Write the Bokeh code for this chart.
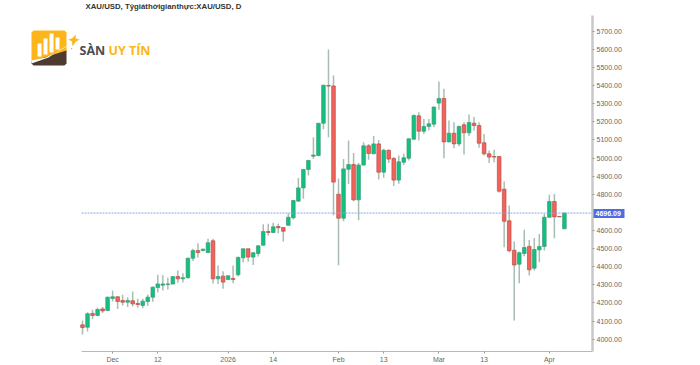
from bokeh.plotting import figure
from bokeh.models import ColumnDataSource, FixedTicker, Label, Range1d, LinearAxis, NumeralTickFormatter
from bokeh.embed import file_html
from bokeh.resources import INLINE

# one [open, high, low, close] per trading day
ohlc = [
[4079,4103,4026,4064],[4066,4149,4042,4140],[4142,4162,4112,4131],[4131,4173,4127,4164],
[4167,4177,4144,4156],[4158,4234,4156,4232],[4225,4269,4208,4234],[4234,4237,4166,4208],
[4213,4245,4186,4204],[4204,4232,4177,4213],[4212,4263,4180,4195],[4197,4223,4173,4191],
[4186,4223,4171,4210],[4208,4247,4184,4232],[4232,4291,4206,4287],[4285,4355,4258,4305],
[4298,4353,4269,4305],[4302,4339,4274,4305],[4304,4346,4304,4346],[4346,4379,4311,4333],
[4333,4364,4313,4339],[4339,4449,4335,4447],[4447,4499,4431,4489],[4489,4530,4451,4478],
[4489,4500,4486,4497],[4478,4554,4475,4532],[4543,4554,4307,4333],[4333,4407,4305,4346],
[4348,4375,4278,4315],[4329,4350,4329,4350],[4335,4407,4309,4329],[4355,4456,4348,4451],
[4449,4499,4425,4499],[4499,4499,4427,4453],[4453,4480,4410,4477],[4473,4519,4456,4515],
[4519,4635,4517,4594],[4594,4637,4572,4589],[4589,4642,4585,4620],[4622,4637,4585,4615],
[4616,4616,4539,4596],[4629,4695,4626,4673],[4670,4769,4661,4765],[4762,4890,4760,4835],
[4835,4940,4775,4937],[4937,4990,4903,4986],[5010,5115,4994,5016],[5014,5192,5010,5192],
[5192,5404,5159,5402],[5400,5599,5115,5397],[5398,5456,4684,4867],[4800,4885,4408,4668],
[4668,4995,4651,4940],[4938,5097,4856,4964],[4964,5027,4762,4769],[4769,4973,4657,4961],
[4961,5087,4959,5067],[5067,5078,4990,5025],[5023,5122,5023,5078],[5078,5100,4881,4922],
[4922,5051,4891,5043],[5043,5047,4972,4994],[4997,5005,4845,4878],[4878,5014,4858,4979],
[4977,5023,4962,5001],[4999,5108,4986,5106],[5104,5240,5102,5235],[5233,5253,5097,5148],
[5148,5216,5133,5174],[5174,5216,5152,5189],[5187,5284,5170,5281],[5303,5422,5266,5329],
[5329,5382,4999,5089],[5089,5207,5087,5137],[5137,5198,5054,5078],[5078,5180,5065,5174],
[5183,5198,5019,5139],[5139,5240,5121,5196],[5192,5226,5152,5179],[5179,5198,5056,5082],
[5084,5133,5014,5023],[5023,5042,4972,5005],[5008,5045,4977,5005],[5008,5008,4808,4817],
[4828,4870,4508,4651],[4653,4738,4480,4488],[4491,4539,4103,4409],[4414,4484,4309,4477],
[4473,4604,4458,4506],[4512,4548,4351,4383],[4392,4559,4379,4495],[4493,4581,4425,4512],
[4512,4692,4489,4673],[4673,4797,4670,4760],[4760,4802,4557,4675],[4677,4677,4675,4675],
[4609,4697,4609,4697],
]
x_tick_positions = [6, 15, 29, 38, 51, 60, 71, 80, 93]
x_tick_labels = ["Dec", "12", "2026", "14", "Feb", "13", "Mar", "13", "Apr"]
price_ticks = [4000, 4100, 4200, 4300, 4400, 4500, 4600, 4800, 4900,
               5000, 5100, 5200, 5300, 5400, 5500, 5600, 5700]
last_price = 4696.09
title_text = "XAU/USD, Tỷgiáthờigianthực:XAU/USD, D"

idx = list(range(len(ohlc)))
o = [r[0] for r in ohlc]; h = [r[1] for r in ohlc]; l = [r[2] for r in ohlc]; c = [r[3] for r in ohlc]
up = [cc >= oo for oo, cc in zip(o, c)]
GREEN, RED = "#0fc27d", "#f2645b"
src = ColumnDataSource(dict(
    x=idx, h=h, l=l, top=[max(a, b) for a, b in zip(o, c)], bottom=[min(a, b) for a, b in zip(o, c)],
    fill=[GREEN if u else RED for u in up],
    edge=["#3f9a78" if u else "#b84c45" for u in up],
))

# pixel -> data helpers, only for the logo decoration
def X(px): return (px - 82) / 5.02
def Y(py): return 5700 - (py - 30.7) * 5.52

p = figure(width=700, height=365, output_backend="svg", toolbar_location=None,
           x_range=Range1d(X(0), X(592)), y_range=Range1d(Y(351), Y(0)),
           y_axis_location="right", min_border_left=0, min_border_right=108,
           min_border_top=0, min_border_bottom=14, outline_line_color=None,
           styles={"position": "absolute", "left": "0px", "top": "0px"})
p.grid.visible = False
p.background_fill_color = "white"
p.border_fill_color = "white"

p.segment("x", "h", "x", "l", source=src, line_color="#a8bdb2", line_width=1.5)
p.vbar("x", 0.72, "top", "bottom", source=src, fill_color="fill", line_color="edge", line_width=0.7)

p.segment([X(81)], [last_price], [X(592)], [last_price], line_color="#86a6f2", line_width=1, line_dash="2 1")

xa = p.xaxis[0]
xa.bounds = (X(81), X(592))
xa.ticker = FixedTicker(ticks=x_tick_positions)
xa.major_label_overrides = dict(zip(x_tick_positions, x_tick_labels))
xa.axis_line_color = "#b8b8b8"; xa.major_tick_line_color = "#999999"
xa.major_tick_out = 2; xa.major_tick_in = 0; xa.minor_tick_line_color = None
xa.major_label_text_font = "Liberation Sans"
xa.major_label_text_font_size = "7px"; xa.major_label_text_color = "#666666"
xa.major_label_standoff = 2

ya = p.yaxis[0]
ya.bounds = (Y(351), Y(15))
ya.ticker = FixedTicker(ticks=price_ticks)
ya.major_label_overrides = {t: f"{t}.00" for t in price_ticks}
ya.axis_line_color = "#c8c8c8"; ya.axis_line_width = 2.5
ya.major_tick_line_color = "#999999"; ya.major_tick_out = 2; ya.major_tick_in = 0
ya.minor_tick_line_color = None
ya.major_label_text_font = "Liberation Sans"
ya.major_label_text_font_size = "7px"; ya.major_label_text_color = "#666666"
ya.major_label_standoff = 2

# price tag: a second right-hand axis; its single thick tick is the tag's background,
# and its tick label is pulled back over that tick
tag_axis = LinearAxis(ticker=FixedTicker(ticks=[last_price]),
                      formatter=NumeralTickFormatter(format="0.00"),
                      major_label_text_font="Liberation Sans",
                      major_label_text_font_size="7px", major_label_text_font_style="bold",
                      major_label_text_color="white", major_label_standoff=-29,
                      axis_line_color=None, minor_tick_line_color=None,
                      major_tick_line_color="#4a6fe3", major_tick_line_width=9,
                      major_tick_in=31, major_tick_out=0)
p.add_layout(tag_axis, "right")

# title
p.add_layout(Label(x=85, y=5.5, x_units="canvas", y_units="canvas", text=title_text,
                   text_font_size="7.8px", text_font_style="bold", text_color="#333333",
                   text_font="Liberation Sans", text_baseline="middle"))

# logo
def poly(xs, ys, col):
    p.patch([X(v) for v in xs], [Y(v) for v in ys], fill_color=col, line_color=None)
poly([33,64,66,66,31,31], [30,30,32,52,61,32], "#fdb51b")
poly([31,66,66,64,33,31], [61,50,63,65,65,63], "#4d3b30")
poly([31,45,56,66,72,60,48,31], [60,57,52,46,42,49,57,63], "white")
for bx, bt, bb in [(37,43,56),(43,38,54),(49,33,52),(55,37,49)]:
    poly([bx,bx+4,bx+4,bx], [bt,bt,bb,bb], "white")
poly([75.5,75,79,75,72,71.5,68,71.5], [34,38,39,41.5,46,41,39,38], "#fdb51b")
poly([70.5,71.7,71.7,70.5], [47.5,47.5,48.7,48.7], "#fdb51b")
p.add_layout(Label(x=79, y=49.5, x_units="canvas", y_units="canvas", text="SÀN",
                   text_font="Open Sans", text_font_size="12.5px", text_font_style="bold",
                   text_color="#4d4d4d", text_baseline="middle"))
p.add_layout(Label(x=108, y=49.5, x_units="canvas", y_units="canvas", text="UY TÍN",
                   text_font="Open Sans", text_font_size="12.5px", text_font_style="bold",
                   text_color="#fdb51b", text_baseline="middle"))

open("out.html", "w").write(file_html(p, INLINE))
